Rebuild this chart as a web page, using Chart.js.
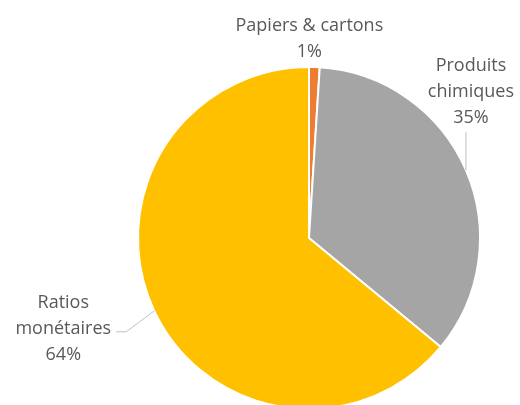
<!DOCTYPE html>
<html>
<head>
<meta charset="utf-8">
<script src="https://cdn.jsdelivr.net/npm/chart.js@4/dist/chart.umd.min.js"></script>
<style>
    html, body { margin: 0; padding: 0; background: #fff; overflow: hidden; }
    #wrap { width: 520px; height: 420px; position: relative; }
</style>
</head>
<body>
<div id="wrap"><canvas id="pie"></canvas></div>
<script>
// Categories and shares (percent)
const categories = ['Papiers & cartons', 'Produits chimiques', 'Ratios monétaires'];
const labelLines = [['Papiers & cartons'], ['Produits', 'chimiques'], ['Ratios', 'monétaires']];
const shares = [1, 35, 64];
const sliceColors = ['#ED7D31', '#A5A5A5', '#FFC000'];

// ----------------------------------------------------
// Outside labels with leader lines, anchored at each slice's outer mid point
// ----------------------------------------------------
const outsideLabels = {
    id: 'outsideLabels',
    afterDatasetsDraw(chart, args, opts) {
        const ctx = chart.ctx;
        const meta = chart.getDatasetMeta(0);
        const total = shares.reduce((a, b) => a + b, 0);
        ctx.save();
        ctx.font = '18px "Open Sans", sans-serif';
        ctx.fillStyle = '#595959';
        ctx.strokeStyle = '#BFBFBF';
        ctx.lineWidth = 1;
        ctx.textAlign = 'center';
        meta.data.forEach((arc, i) => {
            const mid = (arc.startAngle + arc.endAngle) / 2;
            const ax = arc.x + Math.cos(mid) * arc.outerRadius;
            const ay = arc.y + Math.sin(mid) * arc.outerRadius;
            const p = opts.place[i];
            if (p.leader) {
                ctx.beginPath();
                ctx.moveTo(ax, ay);
                p.leader.forEach(pt => ctx.lineTo(ax + pt[0], ay + pt[1]));
                ctx.stroke();
            }
            const lines = labelLines[i].concat([Math.round(shares[i] / total * 100) + '%']);
            const n = lines.length;
            lines.forEach((t, k) => {
                ctx.fillText(t, ax + p.dx, ay + p.dy - (n - 1 - k) * 26);
            });
        });
        ctx.restore();
    }
};

new Chart(document.getElementById('pie'), {
    type: 'pie',
    data: {
        labels: categories,
        datasets: [{
            data: shares,
            backgroundColor: sliceColors,
            borderColor: '#ffffff',
            borderWidth: 2
        }]
    },
    options: {
        responsive: true,
        maintainAspectRatio: false,
        animation: false,
        layout: { padding: { top: 66, bottom: 10, left: 137, right: 39 } },
        plugins: {
            legend: { display: false },
            tooltip: { enabled: false },
            outsideLabels: {
                place: [
                    { dx: -5, dy: -10 },
                    { dx: 5, dy: -47, leader: [[0, -38]] },
                    { dx: -91, dy: 49, leader: [[-28, 21], [-38, 21]] }
                ]
            }
        }
    },
    plugins: [outsideLabels]
});
</script>
</body>
</html>
